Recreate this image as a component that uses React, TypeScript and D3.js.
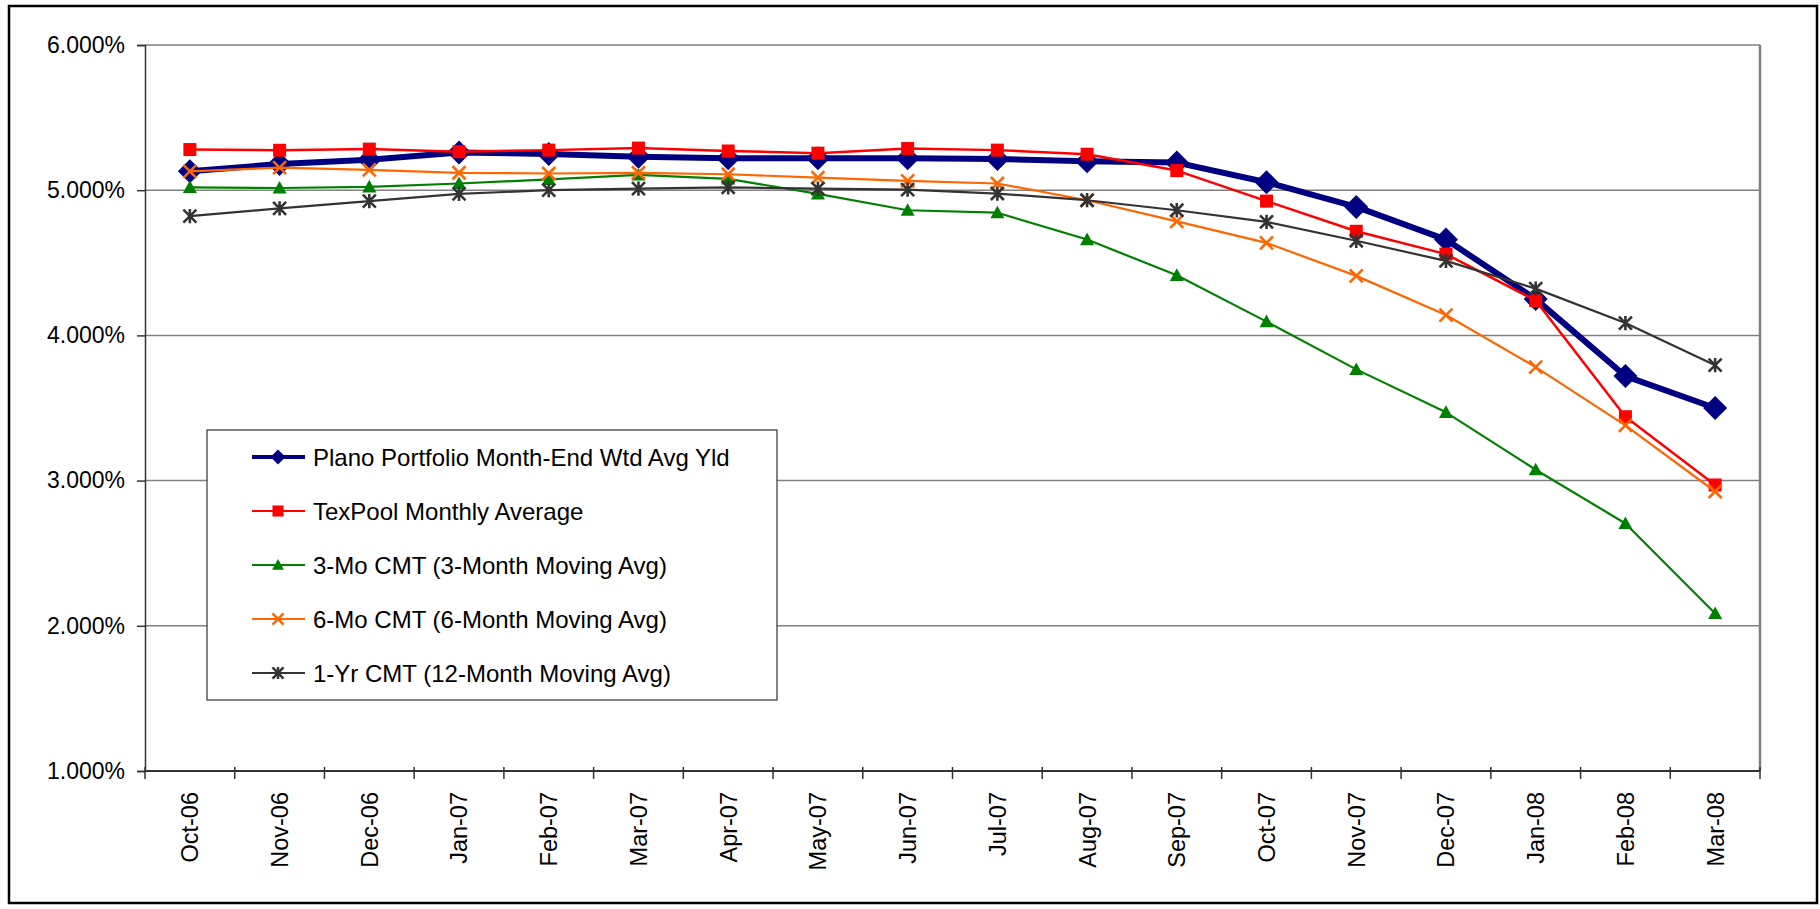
import * as d3 from "d3";
import { useEffect, useRef } from "react";

// chart values (percent)
const months = [
  "Oct-06", "Nov-06", "Dec-06", "Jan-07", "Feb-07", "Mar-07", "Apr-07", "May-07", "Jun-07",
  "Jul-07", "Aug-07", "Sep-07", "Oct-07", "Nov-07", "Dec-07", "Jan-08", "Feb-08", "Mar-08",
];
const plano = [5.13, 5.18, 5.21, 5.26, 5.25, 5.23, 5.22, 5.22, 5.22, 5.215, 5.2, 5.19, 5.055, 4.885, 4.66, 4.25, 3.72, 3.5];
const texPool = [5.28, 5.275, 5.283, 5.265, 5.276, 5.29, 5.27, 5.255, 5.287, 5.276, 5.248, 5.135, 4.925, 4.717, 4.56, 4.24, 3.44, 2.97];
const cmt3 = [5.02, 5.015, 5.023, 5.046, 5.074, 5.105, 5.078, 4.975, 4.862, 4.845, 4.66, 4.414, 4.095, 3.766, 3.47, 3.075, 2.705, 2.085];
const cmt6 = [5.13, 5.156, 5.14, 5.12, 5.115, 5.12, 5.11, 5.087, 5.064, 5.046, 4.931, 4.785, 4.637, 4.41, 4.14, 3.782, 3.38, 2.925];
const cmt12 = [4.822, 4.875, 4.925, 4.975, 5.0, 5.011, 5.019, 5.011, 5.004, 4.977, 4.931, 4.862, 4.782, 4.652, 4.513, 4.322, 4.085, 3.795];
const yTicks = [1, 2, 3, 4, 5, 6];

const seriesNames = [
  "Plano Portfolio Month-End Wtd Avg Yld",
  "TexPool Monthly Average",
  "3-Mo CMT (3-Month Moving Avg)",
  "6-Mo CMT (6-Month Moving Avg)",
  "1-Yr CMT (12-Month Moving Avg)",
];

type Marker = "diamond" | "square" | "triangle" | "x" | "star";

const styles: { color: string; width: number; marker: Marker; size: number }[] = [
  { color: "#000080", width: 6, marker: "diamond", size: 12 },
  { color: "#FF0000", width: 2.5, marker: "square", size: 6.5 },
  { color: "#008000", width: 2.2, marker: "triangle", size: 7 },
  { color: "#FF6600", width: 2.2, marker: "x", size: 6.5 },
  { color: "#333333", width: 2.2, marker: "star", size: 6.5 },
];

const markerPath = (m: Marker, s: number) => {
  switch (m) {
    case "diamond":
      return `M0,${-s}L${s},0L0,${s}L${-s},0Z`;
    case "square":
      return `M${-s},${-s}H${s}V${s}H${-s}Z`;
    case "triangle":
      return `M0,${-s}L${s},${s * 0.8}L${-s},${s * 0.8}Z`;
    case "x":
      return `M${-s},${-s}L${s},${s}M${s},${-s}L${-s},${s}`;
    case "star":
      return `M${-s},${-s}L${s},${s}M${s},${-s}L${-s},${s}M0,${-s * 1.1}V${s * 1.1}`;
  }
};

const font = "'Liberation Sans', Arial, sans-serif";

const App = () => {
  const ref = useRef<SVGSVGElement>(null);

  useEffect(() => {
    const svg = d3.select(ref.current);
    svg.selectAll("*").remove();

    const W = 1820, H = 909;
    const margin = { left: 145, top: 45, right: 60, bottom: 138 };
    const plotW = W - margin.left - margin.right;
    const plotH = H - margin.top - margin.bottom;

    // outer chart border
    svg.append("rect")
      .attr("x", 9).attr("y", 6)
      .attr("width", 1808).attr("height", 897)
      .attr("fill", "white").attr("stroke", "black").attr("stroke-width", 2.5);

    const g = svg.append("g").attr("transform", `translate(${margin.left},${margin.top})`);

    const x = d3.scaleBand().domain(months).range([0, plotW]);
    const y = d3.scaleLinear().domain([1, 6]).range([plotH, 0]);
    const cx = (m: string) => (x(m) as number) + x.bandwidth() / 2;

    // gridlines
    g.selectAll(".grid")
      .data(yTicks.filter((t) => t > 1))
      .join("line")
      .attr("x1", 0).attr("x2", plotW)
      .attr("y1", (d) => y(d)).attr("y2", (d) => y(d))
      .attr("stroke", "#808080").attr("stroke-width", 1.5);

    // plot area right border
    g.append("line")
      .attr("x1", plotW).attr("x2", plotW).attr("y1", 0).attr("y2", plotH)
      .attr("stroke", "#808080").attr("stroke-width", 2.5);

    // y axis
    const yAxis = g.append("g")
      .call(d3.axisLeft(y).tickValues(yTicks).tickSize(8).tickFormat((d) => `${d3.format(".3f")(d as number)}%`));
    yAxis.select(".domain").attr("stroke", "#333").attr("stroke-width", 1.5);
    yAxis.selectAll(".tick line").attr("stroke", "#333").attr("stroke-width", 1.5);
    yAxis.selectAll(".tick text")
      .attr("x", -20)
      .style("font-family", font).style("font-size", "23px").attr("fill", "#000");

    // x axis
    const xAxis = g.append("g").attr("transform", `translate(0,${plotH})`);
    xAxis.append("line")
      .attr("x1", 0).attr("x2", plotW)
      .attr("stroke", "#333").attr("stroke-width", 2);
    const bounds = d3.range(months.length + 1).map((i) => i * x.step());
    xAxis.selectAll(".xt")
      .data(bounds)
      .join("line")
      .attr("x1", (d) => d).attr("x2", (d) => d)
      .attr("y1", -4).attr("y2", 8)
      .attr("stroke", "#333").attr("stroke-width", 1.5);
    xAxis.selectAll(".xl")
      .data(months)
      .join("text")
      .attr("transform", (d) => `translate(${cx(d)},21) rotate(-90)`)
      .attr("text-anchor", "end")
      .attr("dy", "0.36em")
      .style("font-family", font).style("font-size", "23.5px")
      .text((d) => d);

    const allSeries = [plano, texPool, cmt3, cmt6, cmt12];

    allSeries.forEach((vals, i) => {
      const st = styles[i];
      const pts = vals.map((v, j) => ({ m: months[j], v }));
      const line = d3.line<{ m: string; v: number }>()
        .x((d) => cx(d.m))
        .y((d) => y(d.v));
      g.append("path")
        .datum(pts)
        .attr("fill", "none")
        .attr("stroke", st.color)
        .attr("stroke-width", st.width)
        .attr("stroke-linejoin", "round")
        .attr("d", line);
      const filled = st.marker !== "x" && st.marker !== "star";
      g.append("g")
        .selectAll("path")
        .data(pts)
        .join("path")
        .attr("transform", (d) => `translate(${cx(d.m)},${y(d.v)})`)
        .attr("d", markerPath(st.marker, st.size))
        .attr("fill", filled ? st.color : "none")
        .attr("stroke", filled ? "none" : st.color)
        .attr("stroke-width", 2.6);
    });

    // legend
    const lg = svg.append("g").attr("transform", "translate(207,430)");
    lg.append("rect")
      .attr("width", 570).attr("height", 270)
      .attr("fill", "white").attr("stroke", "#333").attr("stroke-width", 1.2);
    seriesNames.forEach((name, i) => {
      const st = styles[i];
      const ly = 27 + i * 54;
      const row = lg.append("g").attr("transform", `translate(0,${ly})`);
      row.append("line")
        .attr("x1", 45).attr("x2", 98)
        .attr("stroke", st.color)
        .attr("stroke-width", i === 0 ? 4 : 2.2);
      const filled = st.marker !== "x" && st.marker !== "star";
      row.append("path")
        .attr("transform", "translate(71,0)")
        .attr("d", markerPath(st.marker, i === 0 ? 7.5 : st.size * 0.85))
        .attr("fill", filled ? st.color : "none")
        .attr("stroke", filled ? "none" : st.color)
        .attr("stroke-width", 2.5);
      row.append("text")
        .attr("x", 106)
        .attr("dy", "0.36em")
        .style("font-family", font).style("font-size", "24px")
        .text(name);
    });
  }, []);

  return (
    <svg
      ref={ref}
      width={1820}
      height={909}
      style={{ position: "absolute", left: 0, top: 0, background: "white" }}
    />
  );
};

export default App;
